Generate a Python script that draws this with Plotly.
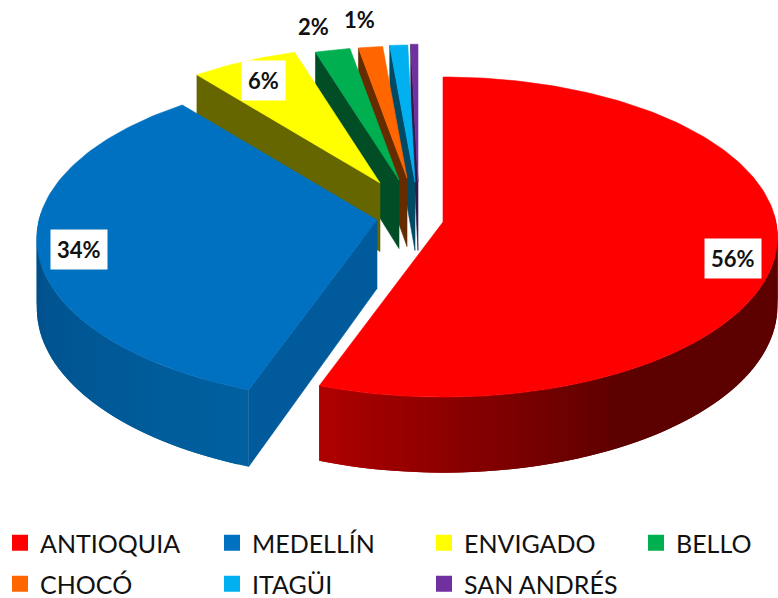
import math
import plotly.graph_objects as go

categories = ["ANTIOQUIA", "MEDELLÍN", "ENVIGADO", "BELLO", "CHOCÓ", "ITAGÜI", "SAN ANDRÉS"]
values = [55.5, 33.7, 6.0, 2.0, 1.4, 1.0, 0.4]
show_label = [True, True, True, True, True, False, False]

colors = ["#ff0000", "#0070c0", "#ffff00", "#00b050", "#ff6600", "#00b0f0", "#7030a0"]
wall_colors = ["#990000", "#005a9c", "#666600", "#004d26", "#662c00", "#004a66", "#2f1a4a"]
side_start = [(176, 0, 0), (0, 78, 136), (102, 102, 0), (0, 77, 38), (102, 44, 0), (0, 74, 102), (47, 26, 74)]
side_end = [(92, 0, 0), (0, 96, 160), (102, 102, 0), (0, 77, 38), (102, 44, 0), (0, 74, 102), (47, 26, 74)]
apex = [(443, 222), (377, 220), (380, 183), (399, 180), (407, 178), (415, 182), (418, 182)]
slice_scale = [1.0, 1.015, 0.94, 0.92, 0.91, 0.945, 0.95]
slice_k = [0.094, 0.115, 0.094, 0.094, 0.094, 0.094, 0.094]
label_pos = [(733, 258), (79, 249), (263, 80), (313, 26), (359, 19)]

RX, RY, DEPTH = 333, 158.6, 68.5


def project(i, theta):
    u, v = math.sin(theta), math.cos(theta)
    w = 1 + slice_k[i] * v
    s = slice_scale[i]
    return apex[i][0] + s * RX * u / w, apex[i][1] - s * RY * v / w, w


def rgb(c):
    return f"rgb({int(c[0])},{int(c[1])},{int(c[2])})"


def poly(fig, pts, color, lw=0.6):
    xs = [p[0] for p in pts] + [pts[0][0]]
    ys = [p[1] for p in pts] + [pts[0][1]]
    fig.add_trace(go.Scatter(x=xs, y=ys, mode="lines", fill="toself", fillcolor=color,
                             line=dict(color=color, width=lw), showlegend=False, hoverinfo="skip"))


fig = go.Figure()
total = sum(values)
bounds = [0.0]
for val in values:
    bounds.append(bounds[-1] + val / total * 2 * math.pi)

# back slices first, front slices last
for i in range(len(values) - 1, -1, -1):
    c = apex[i]
    t0, t1 = bounds[i], bounds[i + 1]
    # outer side strip (only where it faces the viewer)
    a0, a1 = max(t0, math.pi / 2 - 0.05), min(t1, 3 * math.pi / 2 + 0.05)
    if a1 > a0:
        n = max(2, int((a1 - a0) / 0.03))
        # each band overlaps the next one so that no seam shows
        for s in range(n):
            b0 = a0 + (a1 - a0) * s / n
            b1 = min(a1, a0 + (a1 - a0) * (s + 2) / n)
            p0, pm, p1 = project(i, b0), project(i, (b0 + b1) / 2), project(i, b1)
            if i == 0:
                f = max(0.0, (s / n - 0.55) / 0.45)
            else:
                f = s / n
            col = tuple(side_end[i][k] + (side_start[i][k] - side_end[i][k]) * f for k in range(3))
            poly(fig, [p0[:2], pm[:2], p1[:2],
                       (p1[0], p1[1] + DEPTH / p1[2]), (pm[0], pm[1] + DEPTH / pm[2]),
                       (p0[0], p0[1] + DEPTH / p0[2])], rgb(col), lw=0)
    # wall along the leading edge of the slice
    if i > 0:
        e = project(i, t0)
        poly(fig, [(c[0], c[1]), (e[0], e[1]), (e[0], e[1] + DEPTH / e[2]), (c[0], c[1] + DEPTH)], wall_colors[i])
    # top face
    n = max(3, int((t1 - t0) / 0.02))
    arc = [project(i, t0 + (t1 - t0) * s / n)[:2] for s in range(n + 1)]
    poly(fig, [c] + arc, colors[i])

# percentage labels
labelled = [v for v, s in zip(values, show_label) if s]
for val, pos in zip(labelled, label_pos):
    fig.add_annotation(x=pos[0], y=pos[1], text=f"<b>{round(val / total * 100)}%</b>", showarrow=False,
                       bgcolor="white", borderpad=6,
                       font=dict(family="Lato", size=22, color="#111111"))

# legend entries: rows are separate legends, the fourth column has its own so it does not wrap
row_of = ["legend", "legend", "legend", "legend3", "legend2", "legend2", "legend2"]
for name, col, lg in zip(categories, colors, row_of):
    fig.add_trace(go.Scatter(x=[None], y=[None], mode="markers", name=name, legend=lg,
                             marker=dict(symbol="square", size=18, color=col), hoverinfo="skip"))

legend_common = dict(orientation="h", xanchor="left", yanchor="middle", x=0, traceorder="normal",
                     entrywidth=167, entrywidthmode="pixels", bgcolor="rgba(0,0,0,0)", borderwidth=0,
                     font=dict(family="Lato", size=25, color="#111111"))

fig.update_layout(
    width=778, height=598, margin=dict(l=0, r=0, t=0, b=0, autoexpand=False),
    paper_bgcolor="white", plot_bgcolor="white",
    xaxis=dict(range=[0, 778], visible=False, fixedrange=True),
    yaxis=dict(range=[598, 0], visible=False, fixedrange=True),
    legend={**legend_common, "y": 1 - 543 / 598},
    legend2={**legend_common, "y": 1 - 584 / 598},
    legend3={**legend_common, "y": 1 - 543 / 598, "x": 636 / 778, "entrywidth": 90},
)

fig.write_html("out.html", config={"displayModeBar": False},
               post_script="document.body.style.margin='0';")
